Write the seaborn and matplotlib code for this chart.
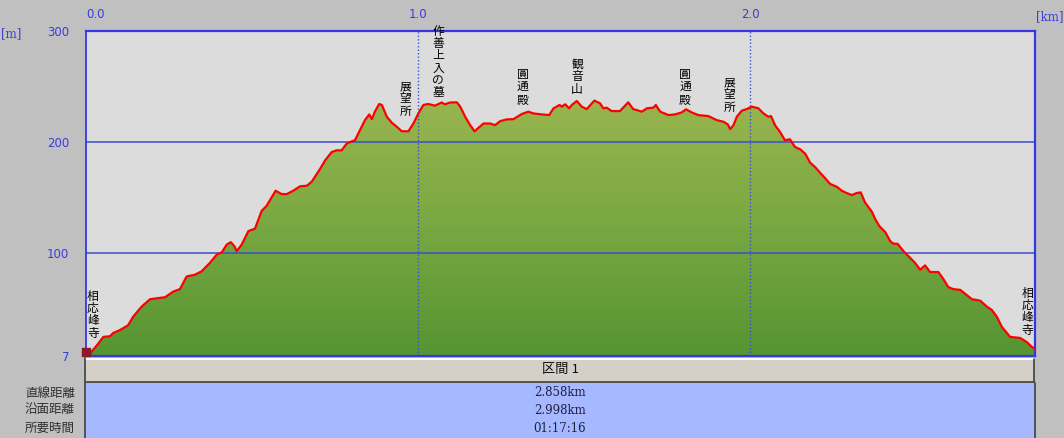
import numpy as np
import pandas as pd
import matplotlib
matplotlib.use("Agg")
import matplotlib.pyplot as plt
import seaborn as sns
from matplotlib.patches import Rectangle
from matplotlib.colors import LinearSegmentedColormap

# ---------------- data ----------------
dist_km = [0.000, 0.007, 0.037, 0.052, 0.072, 0.082, 0.102, 0.127, 0.142, 0.163, 0.173,
           0.193, 0.238, 0.263, 0.283, 0.303, 0.328, 0.348, 0.373, 0.394, 0.409,
           0.424, 0.436, 0.447, 0.454, 0.469, 0.489, 0.509, 0.529, 0.544, 0.559,
           0.571, 0.589, 0.605, 0.624, 0.645, 0.665, 0.680, 0.695, 0.705, 0.720,
           0.740, 0.755, 0.770, 0.785, 0.800, 0.810, 0.825, 0.840, 0.853, 0.861,
           0.870, 0.883, 0.891, 0.906, 0.921, 0.936, 0.951, 0.971, 0.986, 1.001,
           1.016, 1.031, 1.051, 1.071, 1.081, 1.096, 1.117, 1.127, 1.142, 1.157,
           1.170, 1.182, 1.197, 1.217, 1.232, 1.247, 1.267, 1.287, 1.312, 1.332,
           1.347, 1.373, 1.395, 1.408, 1.426, 1.433, 1.443, 1.455, 1.463, 1.478,
           1.493, 1.508, 1.531, 1.548, 1.558, 1.568, 1.583, 1.608, 1.633, 1.648,
           1.674, 1.689, 1.709, 1.716, 1.729, 1.754, 1.774, 1.794, 1.807, 1.824,
           1.844, 1.874, 1.900, 1.920, 1.933, 1.940, 1.950, 1.960, 1.975, 1.990,
           2.005, 2.025, 2.040, 2.055, 2.063, 2.075, 2.090, 2.105, 2.120, 2.135,
           2.151, 2.166, 2.181, 2.196, 2.211, 2.226, 2.241, 2.261, 2.276, 2.291,
           2.306, 2.321, 2.333, 2.346, 2.367, 2.377, 2.389, 2.407, 2.422, 2.432,
           2.444, 2.462, 2.477, 2.497, 2.512, 2.527, 2.542, 2.567, 2.582, 2.597,
           2.612, 2.633, 2.648, 2.668, 2.693, 2.713, 2.728, 2.743, 2.758, 2.783,
           2.813, 2.833, 2.849, 2.858]
elev_m = [7.0, 7.3, 18.2, 24.2, 24.8, 27.8, 30.3, 34.8, 42.4, 50.0, 53.0,
          58.2, 60.0, 65.1, 67.3, 78.7, 80.3, 83.3, 90.9, 98.5, 100.5,
          107.5, 109.6, 106.0, 101.5, 107.5, 119.6, 121.8, 137.8, 142.4, 150.0,
          156.0, 153.0, 153.0, 156.0, 160.0, 160.5, 164.2, 171.2, 175.7, 183.3,
          190.9, 192.4, 192.4, 198.5, 200.5, 201.5, 210.5, 219.6, 224.8, 220.5,
          227.3, 234.2, 233.3, 222.7, 217.3, 213.6, 209.6, 209.6, 216.6, 225.7,
          233.3, 234.2, 232.7, 235.5, 233.9, 235.5, 235.7, 231.8, 222.7, 215.1,
          209.6, 212.7, 216.6, 216.6, 215.1, 218.7, 220.3, 220.5, 225.1, 227.3,
          225.7, 224.8, 224.2, 230.3, 233.3, 231.8, 233.9, 230.3, 233.3, 236.9,
          231.8, 229.6, 237.3, 234.8, 230.3, 230.9, 227.8, 227.8, 235.7, 229.6,
          227.3, 230.3, 230.9, 233.3, 227.3, 224.2, 224.8, 226.6, 229.4, 226.6,
          224.2, 223.3, 219.6, 218.2, 215.7, 211.5, 215.1, 222.7, 228.2, 229.6,
          231.8, 230.3, 225.7, 222.7, 223.3, 215.1, 209.1, 201.5, 202.4, 195.5,
          193.3, 189.4, 181.2, 177.3, 172.1, 167.3, 162.1, 159.6, 156.0, 153.9,
          152.1, 153.9, 154.5, 145.5, 136.9, 130.3, 124.2, 118.7, 110.5, 108.2,
          108.2, 101.5, 96.9, 90.9, 84.8, 88.7, 82.7, 82.7, 76.4, 69.1,
          67.3, 66.6, 63.0, 58.2, 56.9, 51.5, 48.5, 42.4, 33.3, 24.2,
          23.3, 19.6, 15.1, 13.6]

x_ticks = [0.0, 1.0, 2.0]
x_tick_labels = ["0.0", "1.0", "2.0"]
y_ticks = [7, 100, 200, 300]
y_tick_labels = ["7", "100", "200", "300"]
grid_elev = [100, 200]
grid_km = [1.0, 2.0]

landmark_names = ["相応峰寺", "展望所", "作善上入の墓", "圓通殿", "観音山",
                  "圓通殿", "展望所", "相応峰寺"]
landmark_km = [0.021, 0.961, 1.060, 1.316, 1.479, 1.804, 1.937, 2.834]
landmark_top_m = [66.6, 255.7, 305.7, 266.6, 275.7, 266.6, 259.4, 69.4]

section_title = "区間 1"
row_labels = ["直線距離", "沿面距離", "所要時間"]
row_values = ["2.858km", "2.998km", "01:17:16"]

df = pd.DataFrame({"km": dist_km, "m": elev_m})

# ---------------- style ----------------
sns.set_theme(style="white")
plt.rcParams["font.family"] = ["Noto Sans CJK JP", "DejaVu Sans"]

W, H = 1064, 438
fig = plt.figure(figsize=(W / 100, H / 100), dpi=100, facecolor="#c0c0c0")

def fx(px):
    return px / W

def fy(py):
    return 1 - py / H

ax_l, ax_r, ax_t, ax_b = 86, 1035, 31, 356
ax = fig.add_axes([fx(ax_l), fy(ax_b), fx(ax_r - ax_l), (ax_b - ax_t) / H])
ax.set_facecolor("#dcdcdc")
x_max = dist_km[-1]
ax.set_xlim(0, x_max)
ax.set_ylim(7, 300)

# gradient fill under the profile
poly = ax.fill_between(df["km"], df["m"], 7, color="none", lw=0)
cmap = LinearSegmentedColormap.from_list("g", ["#559532", "#7aa842", "#9cb650"])
grad = np.linspace(0, 1, 256).reshape(-1, 1)
img = ax.imshow(grad, extent=[0, x_max, 7, 250], origin="lower", cmap=cmap,
                aspect="auto", zorder=1)
img.set_clip_path(poly.get_paths()[0], transform=ax.transData)
ax.set_ylim(7, 300)

for g in grid_elev:
    ax.axhline(g, color="#3b4fc8", lw=1.1, zorder=2)
for g in grid_km:
    ax.axvline(g, color="#3b4fd8", lw=1.0, ls=(0, (1, 1.5)), zorder=2)

sns.lineplot(data=df, x="km", y="m", ax=ax, color="#ff0000", lw=1.6,
             zorder=4, estimator=None, sort=False)
ax.set_xlabel("")
ax.set_ylabel("")

# hiker marker at start
ax.scatter([dist_km[0]], [elev_m[0] + 4], s=28, marker="s", color="#8b1a2a",
           zorder=6, clip_on=False)

# ticks
ax.xaxis.tick_top()
ax.set_xticks(x_ticks)
ax.set_xticklabels(x_tick_labels)
ax.set_yticks(y_ticks)
ax.set_yticklabels(y_tick_labels)
ax.tick_params(axis="x", length=0, pad=7, labelsize=8.5, labelcolor="#3c3cd8")
ax.tick_params(axis="y", length=0, pad=12, labelsize=8.5, labelcolor="#3c3cd8")
for lab in ax.get_xticklabels() + ax.get_yticklabels():
    lab.set_fontfamily("DejaVu Sans")
ax.get_xticklabels()[0].set_horizontalalignment("left")

for side, sp in ax.spines.items():
    sp.set_visible(True)
    sp.set_color("#3636e8")
    sp.set_linewidth(1.6)
ax.spines["left"].set_linestyle((0, (1, 1)))
ax.spines["left"].set_linewidth(1.3)

fig.text(fx(1050), fy(17), "[km]", ha="center", va="center", fontsize=8.5,
         color="#3c3cd8", family="DejaVu Serif")
fig.text(fx(11), fy(34), "[m]", ha="center", va="center", fontsize=8.5,
         color="#3c3cd8", family="DejaVu Serif")

# vertical landmark labels
step_pt = 12.3 * 0.72
for name, km, top in zip(landmark_names, landmark_km, landmark_top_m):
    for i, ch in enumerate(name):
        ax.annotate(ch, xy=(km, top), xytext=(0, -i * step_pt),
                    textcoords="offset points", ha="center", va="top",
                    fontsize=8.5, color="#000000", zorder=7,
                    annotation_clip=False)

# ---------------- bottom table ----------------
tab_l, tab_r = 86, 1034
fig.patches.append(Rectangle((fx(tab_l), fy(382)), fx(tab_r - tab_l), (382 - 358) / H,
                             transform=fig.transFigure, facecolor="#d4d0c8",
                             edgecolor="none", zorder=1))
fig.lines.append(plt.Line2D([fx(tab_l), fx(tab_r)], [fy(359), fy(359)],
                            transform=fig.transFigure, color="white", lw=1.5))
fig.lines.append(plt.Line2D([fx(tab_l), fx(tab_r)], [fy(382), fy(382)],
                            transform=fig.transFigure, color="#404040", lw=1.2))
fig.lines.append(plt.Line2D([fx(tab_r), fx(tab_r)], [fy(359), fy(382)],
                            transform=fig.transFigure, color="#404040", lw=1.2))
fig.patches.append(Rectangle((fx(tab_l), 0), fx(ax_r - tab_l), (438 - 383) / H,
                             transform=fig.transFigure, facecolor="#a6b8ff",
                             edgecolor="none", zorder=1))
fig.lines.append(plt.Line2D([fx(85), fx(85)], [fy(358), 0],
                            transform=fig.transFigure, color="#404040", lw=1.2))
fig.lines.append(plt.Line2D([fx(ax_r), fx(ax_r)], [fy(383), 0],
                            transform=fig.transFigure, color="#404040", lw=1.2))

fig.text(fx(560), fy(370), section_title, ha="center", va="center",
         fontsize=9.5, color="#101010")
row_y = [393, 410, 428]
for lab, val, yy in zip(row_labels, row_values, row_y):
    fig.text(fx(75), fy(yy), lab, ha="right", va="center", fontsize=9,
             color="#303030")
    fig.text(fx(560), fy(yy), val, ha="center", va="center", fontsize=8.5,
             color="#202040", family="DejaVu Serif")

fig.savefig("out.png", dpi=100, facecolor=fig.get_facecolor())
